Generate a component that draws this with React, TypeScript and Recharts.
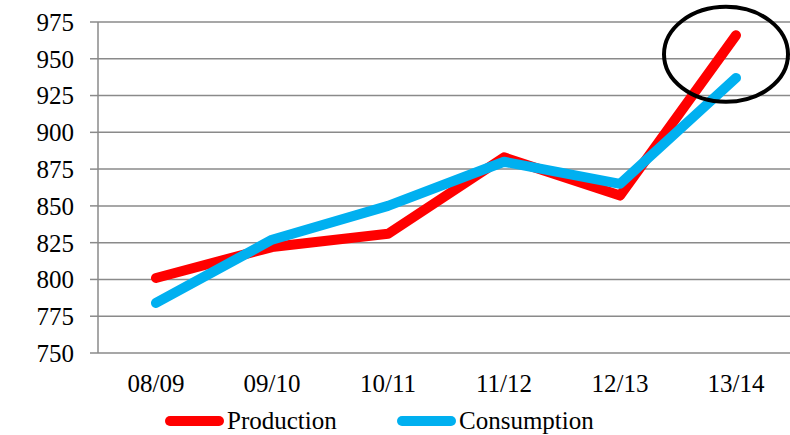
import React from "react";
import {
  LineChart,
  Line,
  XAxis,
  YAxis,
  CartesianGrid,
  Legend,
  ReferenceDot,
} from "recharts";

const categories = ["08/09", "09/10", "10/11", "11/12", "12/13", "13/14"];
const production = [801, 822, 831, 883, 857, 966];
const consumption = [784, 827, 850, 880, 865, 937];
const yTicks = [750, 775, 800, 825, 850, 875, 900, 925, 950, 975];
const boundaryTicks = [0, 1, 2, 3, 4, 5, 6];
const seriesNames = ["Production", "Consumption"];
const seriesColors = ["#ff0000", "#00b0f0"];

const data = categories.map((c, i) => ({
  cat: c,
  idx: i + 0.5,
  Production: production[i],
  Consumption: consumption[i],
}));

const FONT = "Liberation Serif";
const GRID = "#8a8a8a";

const css = `
body { margin: 0; }
.chartwrap, .chartwrap * { font-family: 'Liberation Serif', 'Times New Roman', serif !important; }
.chartwrap text, .chartwrap tspan { font-family: 'Liberation Serif', 'Times New Roman', serif !important; }
`;

const EllipseShape = (props: any) => {
  const { cx, cy } = props;
  if (cx == null || cy == null) return null;
  return (
    <ellipse
      cx={cx - 10}
      cy={cy}
      rx={62}
      ry={47.5}
      fill="none"
      stroke="#000"
      strokeWidth={4}
    />
  );
};

const LegendContent = () => (
  <svg width={800} height={37} style={{ display: "block" }}>
    <line x1={170} y1={23} x2={219} y2={23} stroke={seriesColors[0]} strokeWidth={10} strokeLinecap="round" />
    <text x={227} y={31} fontFamily={FONT} fontSize={25} fill="#000">
      {seriesNames[0]}
    </text>
    <line x1={402} y1={23} x2={451} y2={23} stroke={seriesColors[1]} strokeWidth={10} strokeLinecap="round" />
    <text x={459} y={31} fontFamily={FONT} fontSize={25} fill="#000">
      {seriesNames[1]}
    </text>
  </svg>
);

export default function App() {
  return (
    <div
      className="chartwrap"
      style={{
        width: 790,
        height: 435,
        overflow: "hidden",
        background: "#fff",
        fontFamily: FONT,
      }}
    >
      <style>{css}</style>
      <LineChart
        width={800}
        height={435}
        data={data}
        margin={{ top: 22, right: 6, bottom: 0, left: 0 }}
      >
        <CartesianGrid vertical={false} stroke={GRID} strokeWidth={1.5} />
        <XAxis
          xAxisId="b"
          type="number"
          dataKey="idx"
          domain={[0, 6]}
          ticks={boundaryTicks}
          allowDataOverflow
          height={0}
          tickSize={7}
          tickFormatter={() => ""}
          axisLine={{ stroke: GRID, strokeWidth: 1.5 }}
          tickLine={{ stroke: GRID, strokeWidth: 1.5 }}
        />
        <XAxis
          dataKey="cat"
          scale="band"
          height={45}
          axisLine={false}
          tickLine={false}
          tickSize={7}
          tickMargin={14}
          tick={{ fontFamily: FONT, fontSize: 25, fill: "#000" }}
          interval={0}
        />
        <YAxis
          domain={[750, 975]}
          ticks={yTicks}
          width={98}
          tickSize={8}
          tickMargin={16}
          axisLine={{ stroke: GRID, strokeWidth: 1.5 }}
          tickLine={{ stroke: GRID, strokeWidth: 1.5 }}
          tick={{ fontFamily: FONT, fontSize: 25, fill: "#000" }}
          interval={0}
        />
        <Legend
          verticalAlign="bottom"
          height={37}
          wrapperStyle={{ left: 0, width: 800 }}
          content={<LegendContent />}
        />
        <Line
          type="linear"
          dataKey="Production"
          stroke={seriesColors[0]}
          strokeWidth={10}
          dot={false}
          strokeLinecap="round"
          strokeLinejoin="round"
          isAnimationActive={false}
        />
        <Line
          type="linear"
          dataKey="Consumption"
          stroke={seriesColors[1]}
          strokeWidth={10}
          dot={false}
          strokeLinecap="round"
          strokeLinejoin="round"
          isAnimationActive={false}
        />
        <ReferenceDot
          x="13/14"
          y={953}
          r={1}
          ifOverflow="visible"
          shape={EllipseShape}
        />
      </LineChart>
    </div>
  );
}
